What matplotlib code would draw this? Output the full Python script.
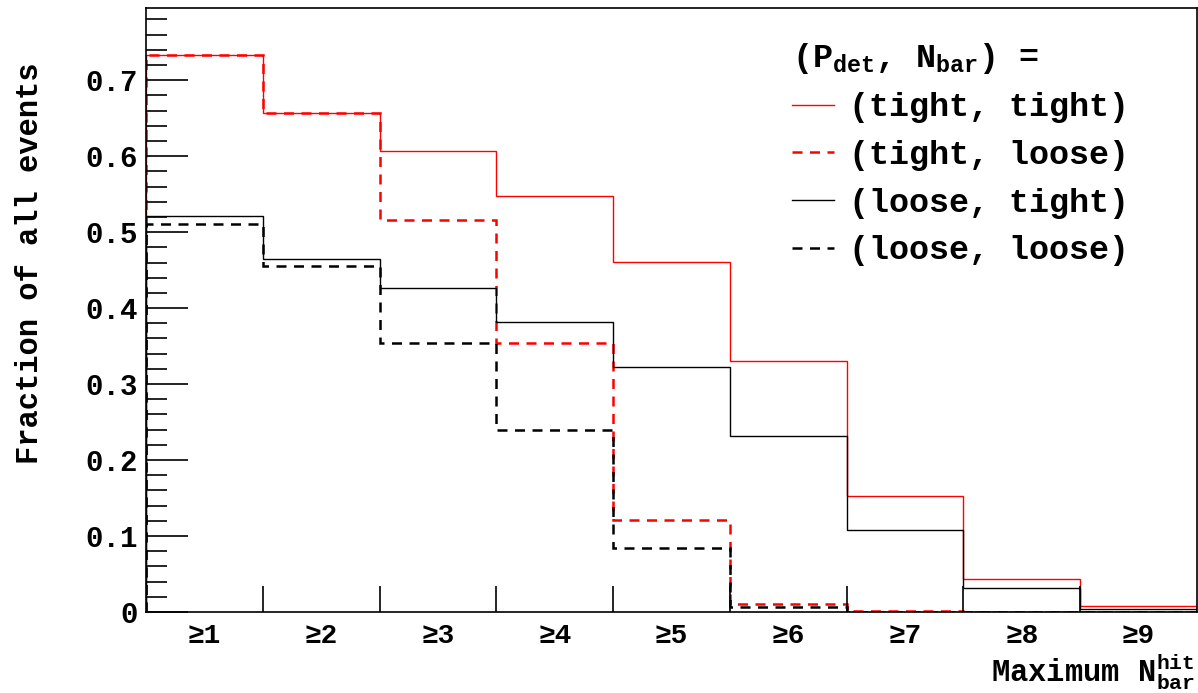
import numpy as np
import matplotlib
matplotlib.use("Agg")
import matplotlib.pyplot as plt
from matplotlib.lines import Line2D

# Bin labels and fractions
bin_labels = ["≥1", "≥2", "≥3", "≥4", "≥5", "≥6", "≥7", "≥8", "≥9"]
tight_tight = [0.733, 0.657, 0.607, 0.548, 0.461, 0.331, 0.153, 0.044, 0.008]
tight_loose = [0.733, 0.657, 0.516, 0.354, 0.121, 0.010, 0.001, 0.0, 0.0]
loose_tight = [0.521, 0.465, 0.427, 0.382, 0.323, 0.231, 0.108, 0.031, 0.004]
loose_loose = [0.511, 0.455, 0.354, 0.240, 0.084, 0.006, 0.0, 0.0, 0.0]

mono = "Liberation Mono"
plt.rcParams["font.family"] = [mono, "DejaVu Sans Mono"]
plt.rcParams["font.weight"] = "bold"
plt.rcParams["mathtext.fontset"] = "custom"
plt.rcParams["mathtext.rm"] = "Liberation Mono:bold"
plt.rcParams["mathtext.it"] = "Liberation Mono:bold"
plt.rcParams["mathtext.bf"] = "Liberation Mono:bold"

fig = plt.figure(figsize=(11.98, 6.93), dpi=100)
ax = fig.add_axes([146 / 1198, 81 / 693, 1051 / 1198, 604 / 693])

edges = np.arange(0.5, len(bin_labels) + 1.5)
centers = np.arange(1, len(bin_labels) + 1)

ax.stairs(tight_tight, edges, color="red", lw=1.0)
ax.stairs(tight_loose, edges, color="red", lw=1.8, linestyle=(0, (4, 3)))
ax.stairs(loose_tight, edges, color="black", lw=1.0)
ax.stairs(loose_loose, edges, color="black", lw=1.8, linestyle=(0, (4, 3)))

ax.set_xlim(edges[0], edges[-1])
ax.set_ylim(0, 0.795)

# y ticks, ROOT style (inside)
ax.set_yticks(np.arange(0, 0.75, 0.1))
ax.set_yticklabels(["0"] + [f"{v:.1f}" for v in np.arange(0.1, 0.75, 0.1)])
ax.set_yticks(np.arange(0, 0.795, 0.02), minor=True)
ax.tick_params(axis="y", which="major", direction="in", length=30, width=1.2,
               labelsize=21, pad=6)
ax.tick_params(axis="y", which="minor", direction="in", length=15, width=1.2)

# x ticks at bin edges, labels at bin centres
ax.set_xticks(edges[1:-1])
ax.set_xticklabels([])
ax.tick_params(axis="x", which="major", direction="in", length=19, width=1.2)
ax.set_xticks(centers, minor=True)
ax.set_xticklabels(bin_labels, minor=True)
ax.tick_params(axis="x", which="minor", length=0, labelsize=20, pad=8)

for s in ax.spines.values():
    s.set_linewidth(1.2)

fig.text(30 / 1198, 1 - 263 / 693, "Fraction of all events", rotation=90,
         ha="center", va="center", fontsize=22, fontweight="bold")
fig.text(1195 / 1198, 1 - 672 / 693, r"Maximum $\mathregular{N_{bar}^{hit}}$",
         ha="right", va="center", fontsize=22, fontweight="bold")

handles = [
    Line2D([], [], color="red", lw=1.0),
    Line2D([], [], color="red", lw=1.8, linestyle=(0, (4, 3))),
    Line2D([], [], color="black", lw=1.0),
    Line2D([], [], color="black", lw=1.8, linestyle=(0, (4, 3))),
]
labels = ["(tight, tight)", "(tight, loose)", "(loose, tight)", "(loose, loose)"]
leg = ax.legend(handles, labels, loc="upper left",
                bbox_to_anchor=(765 / 1198, 1 - 14 / 693), bbox_transform=fig.transFigure,
                frameon=False, fontsize=24, handlelength=1.26, handletextpad=0.45,
                labelspacing=0.5, borderpad=0.3,
                title=r"($\mathregular{P_{det}}$, $\mathregular{N_{bar}}$) =",
                title_fontsize=24, alignment="left")
leg.get_title().set_fontweight("bold")

fig.savefig("out.png", dpi=100)
